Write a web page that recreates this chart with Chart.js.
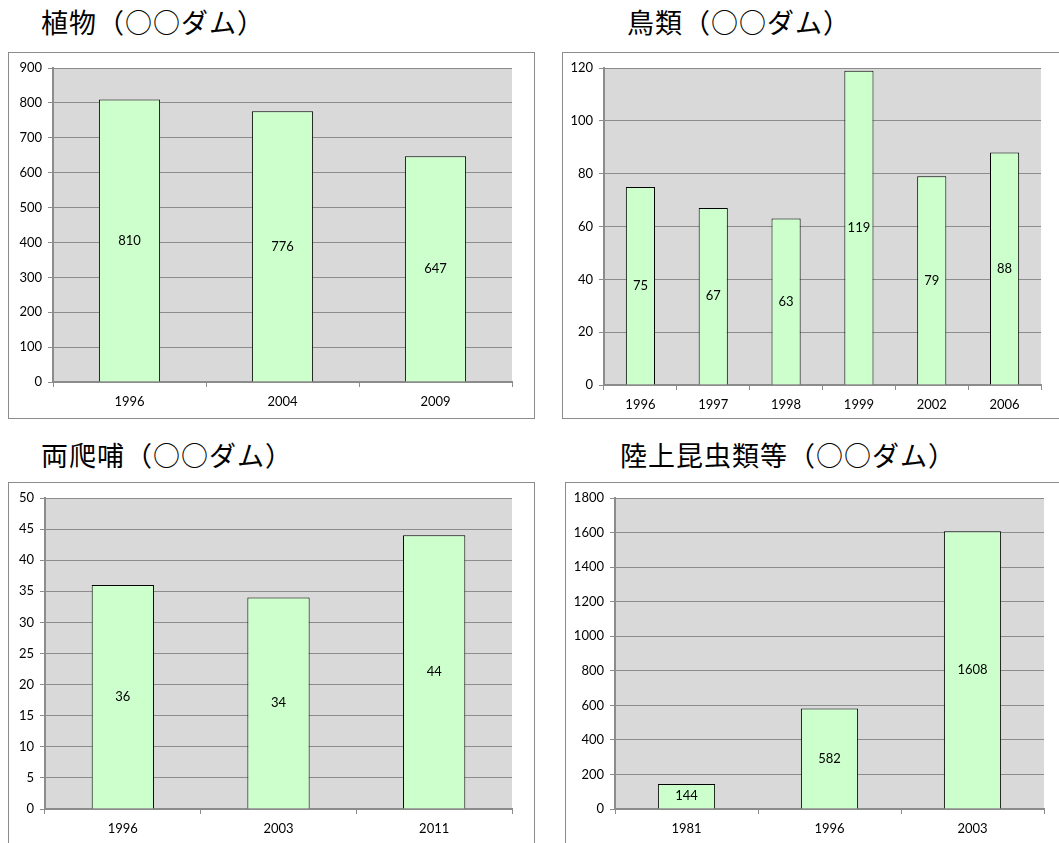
<!DOCTYPE html>
<html lang="ja">
<head>
<meta charset="utf-8">
<title>ダム調査 種数</title>
<script src="https://cdn.jsdelivr.net/npm/chart.js@4"></script>
<style>
  body { margin: 0; background: #fff; width: 1059px; height: 843px; overflow: hidden; position: relative; }
  .judul { position: absolute; font-family: "Noto Sans CJK JP", sans-serif; font-size: 27px; letter-spacing: 1px; color: #000; white-space: nowrap; line-height: 1; }
  .kotak { position: absolute; border: 1px solid #8c8c8c; background: #fff; }
  .kotak canvas { display: block; }
</style>
</head>
<body>
<div class="judul" style="left:41px; top:8px;">植物（○○ダム）</div>
<div class="judul" style="left:627px; top:8px;">鳥類（○○ダム）</div>
<div class="judul" style="left:41px; top:441px;">両爬哺（○○ダム）</div>
<div class="judul" style="left:620px; top:441px;">陸上昆虫類等（○○ダム）</div>

<div class="kotak" style="left:8px; top:52px;"><canvas id="chartPlant" width="525" height="365"></canvas></div>
<div class="kotak" style="left:562px; top:52px;"><canvas id="chartBird" width="510" height="365"></canvas></div>
<div class="kotak" style="left:8px; top:482px;"><canvas id="chartAmphi" width="525" height="370"></canvas></div>
<div class="kotak" style="left:565px; top:482px;"><canvas id="chartInsect" width="510" height="370"></canvas></div>

<script>
// data tiap panel
const tahunTumbuhan = ["1996", "2004", "2009"];
const nilaiTumbuhan = [810, 776, 647];

const tahunBurung = ["1996", "1997", "1998", "1999", "2002", "2006"];
const nilaiBurung = [75, 67, 63, 119, 79, 88];

const tahunAmfibi = ["1996", "2003", "2011"];
const nilaiAmfibi = [36, 34, 44];

const tahunSerangga = ["1981", "1996", "2003"];
const nilaiSerangga = [144, 582, 1608];

const FONT = "Lato, 'Open Sans', sans-serif";

// latar abu-abu area plot
const latarPlot = {
  id: "latarPlot",
  beforeDraw(chart) {
    const a = chart.chartArea;
    const ctx = chart.ctx;
    ctx.save();
    ctx.fillStyle = "#d9d9d9";
    ctx.fillRect(a.left, a.top, a.right - a.left, a.bottom - a.top);
    ctx.restore();
  },
};

// label nilai di tengah batang
const labelNilai = {
  id: "labelNilai",
  afterDatasetsDraw(chart) {
    const ctx = chart.ctx;
    const meta = chart.getDatasetMeta(0);
    ctx.save();
    ctx.font = "13px " + FONT;
    ctx.fillStyle = "#000";
    ctx.textAlign = "center";
    ctx.textBaseline = "middle";
    meta.data.forEach((bar, i) => {
      const p = bar.getProps(["x", "y", "base"], true);
      ctx.fillText(String(chart.data.datasets[0].data[i]), p.x, (p.y + p.base) / 2);
    });
    ctx.restore();
  },
};

function buatChart(canvasId, labels, data, maxY, step, lebarY, tinggiX, padKanan) {
  const ctx = document.getElementById(canvasId);
  new Chart(ctx, {
    type: "bar",
    data: {
      labels: labels,
      datasets: [{
        data: data,
        backgroundColor: "#ccffcc",
        borderColor: "#000",
        borderWidth: 1,
        barPercentage: 0.4,
        categoryPercentage: 1,
      }],
    },
    options: {
      responsive: false,
      animation: false,
      layout: { padding: { top: 15, right: padKanan, bottom: 0, left: 0 } },
      plugins: { legend: { display: false }, tooltip: { enabled: false } },
      scales: {
        x: {
          grid: { display: true, drawOnChartArea: false, drawTicks: true, tickLength: 5, color: "#8c8c8c", offset: true },
          border: { color: "#8c8c8c", width: 2 },
          ticks: { color: "#000", font: { family: FONT, size: 13 }, padding: 7, maxRotation: 0 },
          afterFit(scale) { scale.height = tinggiX; },
        },
        y: {
          min: 0,
          max: maxY,
          ticks: {
            stepSize: step,
            color: "#000",
            font: { family: FONT, size: 13 },
            padding: 6,
            callback: (v) => String(v), // tanpa pemisah ribuan
          },
          grid: { color: "#8c8c8c", tickLength: 5, lineWidth: 1 },
          border: { color: "#8c8c8c", width: 2 },
          afterFit(scale) { scale.width = lebarY; },
        },
      },
    },
    plugins: [latarPlot, labelNilai],
  });
}

buatChart("chartPlant", tahunTumbuhan, nilaiTumbuhan, 900, 100, 44, 36, 22);
buatChart("chartBird", tahunBurung, nilaiBurung, 120, 20, 41, 33, 32);
buatChart("chartAmphi", tahunAmfibi, nilaiAmfibi, 50, 5, 36, 44, 22);
buatChart("chartInsect", tahunSerangga, nilaiSerangga, 1800, 200, 49, 44, 32);
</script>
</body>
</html>
